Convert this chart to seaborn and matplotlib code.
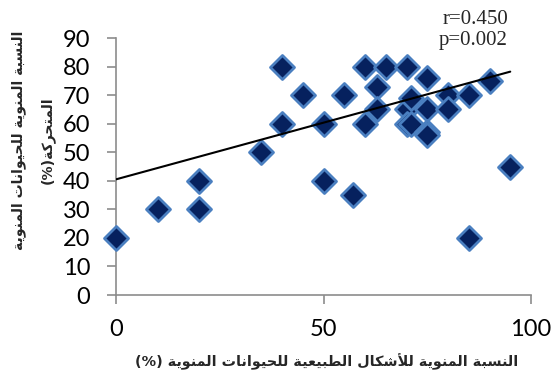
import numpy as np
import pandas as pd
import matplotlib
matplotlib.use("Agg")
import matplotlib.pyplot as plt
import seaborn as sns

# Normal morphology (%) vs. progressive motility (%)
normal_forms = [0, 10, 20, 20, 35, 40, 40, 45, 50, 50, 55, 57, 60, 60, 63, 63,
                65, 70, 70, 70, 71, 71, 75, 75, 75, 75, 80, 80, 85, 85, 90, 95]
motile = [20, 30, 30, 40, 50, 60, 80, 70, 60, 40, 70, 35, 80, 60, 73, 65,
          80, 80, 65, 60, 60, 69, 76, 65, 57, 56, 70, 65, 70, 20, 75, 45]

# Linear trend reported for the full sample
trend_intercept = 40.5
trend_slope = 0.397

x_ticks = [0, 50, 100]
y_ticks = [0, 10, 20, 30, 40, 50, 60, 70, 80, 90]
stats_text = "r=0.450\np=0.002"

x_label = "النسبة المنوية للأشكال الطبيعية للحيوانات المنوية (%)"
y_label_lines = ["النسبة المنوية للحيوانات المنوية", "المتحركة(%)"]

# --- minimal Arabic contextual shaping (presentation forms) ---------------
# (isolated, final, initial, medial)
FORMS = {
    'ا': (0xFE8D, 0xFE8E, None, None),
    'أ': (0xFE83, 0xFE84, None, None),
    'ب': (0xFE8F, 0xFE90, 0xFE91, 0xFE92),
    'ة': (0xFE93, 0xFE94, None, None),
    'ت': (0xFE95, 0xFE96, 0xFE97, 0xFE98),
    'ح': (0xFEA1, 0xFEA2, 0xFEA3, 0xFEA4),
    'ر': (0xFEAD, 0xFEAE, None, None),
    'س': (0xFEB1, 0xFEB2, 0xFEB3, 0xFEB4),
    'ش': (0xFEB5, 0xFEB6, 0xFEB7, 0xFEB8),
    'ط': (0xFEC1, 0xFEC2, 0xFEC3, 0xFEC4),
    'ع': (0xFEC9, 0xFECA, 0xFECB, 0xFECC),
    'ك': (0xFED9, 0xFEDA, 0xFEDB, 0xFEDC),
    'ل': (0xFEDD, 0xFEDE, 0xFEDF, 0xFEE0),
    'م': (0xFEE1, 0xFEE2, 0xFEE3, 0xFEE4),
    'ن': (0xFEE5, 0xFEE6, 0xFEE7, 0xFEE8),
    'و': (0xFEED, 0xFEEE, None, None),
    'ي': (0xFEF1, 0xFEF2, 0xFEF3, 0xFEF4),
}
LAM_ALEF = {'ا': (0xFEFB, 0xFEFC), 'أ': (0xFEF7, 0xFEF8)}
MIRROR = {'(': ')', ')': '('}


def shape_arabic(text):
    tokens = []
    i = 0
    while i < len(text):
        c = text[i]
        if c == 'ل' and i + 1 < len(text) and text[i + 1] in LAM_ALEF:
            tokens.append(('LA', text[i + 1]))
            i += 2
        else:
            tokens.append(c)
            i += 1

    def is_letter(t):
        return isinstance(t, tuple) or t in FORMS

    def joins_next(t):
        return (not isinstance(t, tuple)) and t in FORMS and FORMS[t][2] is not None

    out = []
    for k, t in enumerate(tokens):
        prev_j = k > 0 and is_letter(tokens[k - 1]) and joins_next(tokens[k - 1])
        if isinstance(t, tuple):
            iso, fin = LAM_ALEF[t[1]]
            out.append(chr(fin if prev_j else iso))
            continue
        if t not in FORMS:
            out.append(MIRROR.get(t, t))
            continue
        next_j = joins_next(t) and k + 1 < len(tokens) and is_letter(tokens[k + 1])
        iso, fin, ini, med = FORMS[t]
        if prev_j and next_j:
            code = med
        elif prev_j:
            code = fin
        elif next_j:
            code = ini
        else:
            code = iso
        out.append(chr(code))
    return "".join(reversed(out))


def fit_text(fig, txt, length_px, vertical=False):
    """Rescale a text so that its long side spans length_px pixels."""
    renderer = fig.canvas.get_renderer()
    bb = txt.get_window_extent(renderer)
    cur = bb.height if vertical else bb.width
    txt.set_fontsize(txt.get_fontsize() * length_px / cur)


# --- figure ----------------------------------------------------------------
sns.set_theme(style="white")
plt.rcParams["font.family"] = ["Lato", "DejaVu Sans"]

df = pd.DataFrame({"normal": normal_forms, "motile": motile})

W, H = 552, 381
fig = plt.figure(figsize=(W / 100, H / 100), dpi=100)
ax = fig.add_axes([116 / W, 1 - 295 / H, (531 - 116) / W, (295 - 38) / H])

sns.scatterplot(data=df, x="normal", y="motile", ax=ax, marker="D",
                s=150, color="#06215e", edgecolor="#4a7fc0", linewidth=2.0,
                zorder=3, clip_on=False, legend=False)

x_line = np.array([min(normal_forms), max(normal_forms)])
trend = pd.DataFrame({"normal": x_line,
                      "motile": trend_intercept + trend_slope * x_line})
sns.lineplot(data=trend, x="normal", y="motile", ax=ax, color="black",
             linewidth=1.5, zorder=4)

ax.set_xlim(0, 100)
ax.set_ylim(0, 90)
ax.set_xticks(x_ticks)
ax.set_yticks(y_ticks)
ax.set_xlabel("")
ax.set_ylabel("")

spine_color = "#8c8c8c"
for side in ["top", "right"]:
    ax.spines[side].set_visible(False)
for side in ["left", "bottom"]:
    ax.spines[side].set_color(spine_color)
    ax.spines[side].set_linewidth(1.2)
ax.tick_params(axis="both", direction="out", length=6.5, width=1.2,
               color=spine_color, labelcolor="black", labelsize=17,
               left=True, bottom=True)
ax.tick_params(axis="y", pad=12)
ax.tick_params(axis="x", pad=11)

fig.text(508 / W, 1 - 30 / H, stats_text, ha="right", va="center",
         family=["Liberation Serif"], fontsize=15, linespacing=1.15)

xl = fig.text(326.5 / W, 1 - 362 / H, shape_arabic(x_label), ha="center",
              va="center", family=["DejaVu Sans"], fontweight="bold",
              fontsize=10)

yl = fig.text(33 / W, 1 - 140 / H,
              "\n".join(shape_arabic(s) for s in y_label_lines),
              ha="center", va="center", rotation=90, multialignment="center",
              family=["DejaVu Sans"], fontweight="bold", fontsize=10,
              linespacing=2.2)

fig.canvas.draw()
fit_text(fig, xl, 383)
fit_text(fig, yl, 220, vertical=True)

fig.savefig("out.png", dpi=100)
